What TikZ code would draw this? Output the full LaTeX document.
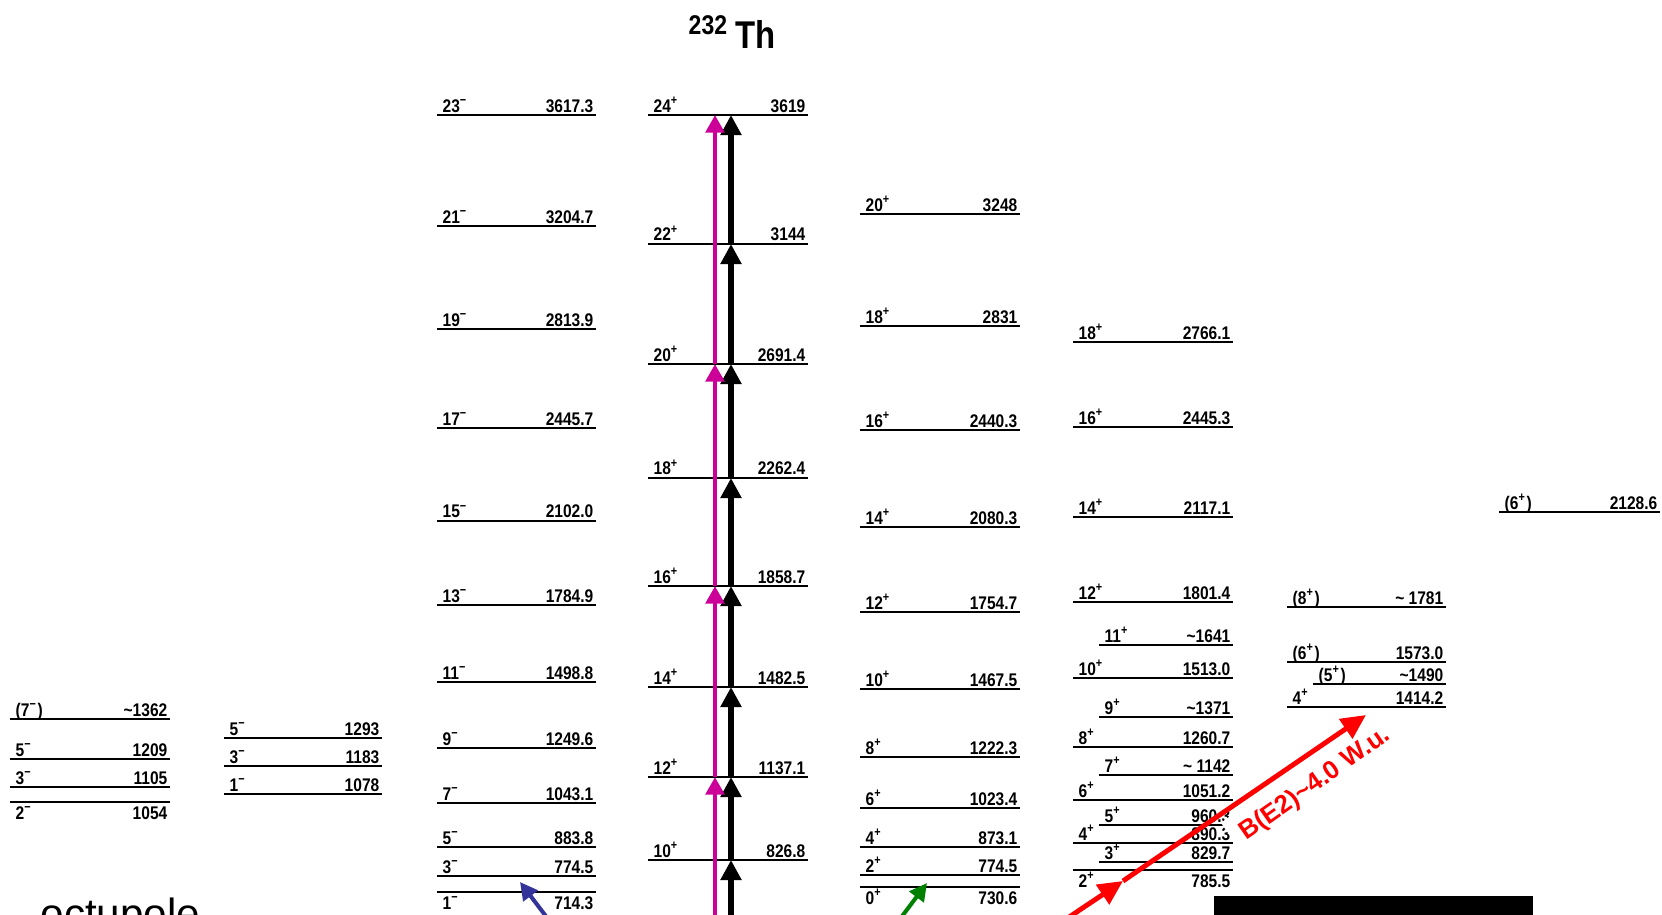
\documentclass[tikz,border=0pt]{standalone}
\usepackage{fontspec}
\setmainfont{Liberation Sans}
\newfontfamily\scanfam{Liberation Sans}[FakeStretch=0.85]
\usepackage{tikz}
\usetikzlibrary{arrows.meta}

\definecolor{gsbmag}{RGB}{204,0,153}
\definecolor{octblue}{RGB}{51,51,153}
\definecolor{betagreen}{RGB}{0,128,0}

\newcommand\lvp{\textsuperscript{+}}
\newcommand\lvm{\textsuperscript{−}}
% level line with spin left and energy right, labels above
\newcommand\lvl[6]{%
  \draw[level] (#2,#4) coordinate (#1) -- (#3,#4) coordinate (#1r);
  \node[spin] (#1s) at ([shift={(5,-3)}]#1) {#5};
  \node[ener] (#1e) at ([shift={(-2,-3)}]#1r) {#6};}
% same, labels below the line
\newcommand\lvlb[6]{%
  \draw[level] (#2,#4) coordinate (#1) -- (#3,#4) coordinate (#1r);
  \node[spin] (#1s) at ([shift={(5,17)}]#1) {#5};
  \node[ener] (#1e) at ([shift={(-2,17)}]#1r) {#6};}

\begin{document}
\begin{tikzpicture}[x=0.01cm, y=-0.01cm,
  level/.style={line width=0.8pt},
  spin/.style={anchor=base west, inner sep=0pt, font=\scanfam\bfseries\fontsize{5.2}{6}\selectfont},
  ener/.style={anchor=base east, inner sep=0pt, font=\scanfam\bfseries\fontsize{5.2}{6}\selectfont},
  blkarr/.style={line width=1.5pt, -{Triangle[length=5.7pt,width=5.7pt]}},
  magarr/.style={gsbmag, line width=1.4pt, -{Triangle[length=5pt,width=5.2pt]}},
  redarr/.style={red, line width=1.4pt, -{Triangle[length=7pt,width=6.5pt]}},
  thinarr/.style={line width=1.15pt, -{Triangle[length=5pt,width=5pt]}},
  e2lab/.style={text=red, fill=white, inner sep=3pt, font=\bfseries\fontsize{7.3}{8}\selectfont}]
  \useasboundingbox (0,0) rectangle (1662,915);
  \clip (0,0) rectangle (1662,915);

  \node[anchor=base west, inner sep=0pt, font=\scanfam\bfseries\fontsize{11}{13}\selectfont] (ttl) at (688,48) {\textsuperscript{232}\kern2pt Th};

  % K=2 octupole
  \lvl{a7}{10}{170}{719}{(7\lvm)}{\textasciitilde1362}
  \lvl{a5}{10}{170}{759}{5\lvm}{1209}
  \lvl{a3}{10}{170}{787}{3\lvm}{1105}
  \lvlb{a2}{10}{170}{802}{2\lvm}{1054}
  % K=1 octupole
  \lvl{b5}{224}{382}{738}{5\lvm}{1293}
  \lvl{b3}{224}{382}{766}{3\lvm}{1183}
  \lvl{b1}{224}{382}{794}{1\lvm}{1078}
  % K=0 octupole
  \lvl{n23}{437}{596}{115}{23\lvm}{3617.3}
  \lvl{n21}{437}{596}{226}{21\lvm}{3204.7}
  \lvl{n19}{437}{596}{329}{19\lvm}{2813.9}
  \lvl{n17}{437}{596}{428}{17\lvm}{2445.7}
  \lvl{n15}{437}{596}{521}{15\lvm}{2102.0}
  \lvl{n13}{437}{596}{605}{13\lvm}{1784.9}
  \lvl{n11}{437}{596}{682}{11\lvm}{1498.8}
  \lvl{n9}{437}{596}{748}{9\lvm}{1249.6}
  \lvl{n7}{437}{596}{803}{7\lvm}{1043.1}
  \lvl{n5}{437}{596}{847}{5\lvm}{883.8}
  \lvl{n3}{437}{596}{876}{3\lvm}{774.5}
  \lvlb{n1}{437}{596}{892}{1\lvm}{714.3}
  % ground band
  \lvl{g24}{648}{808}{115}{24\lvp}{3619}
  \lvl{g22}{648}{808}{244}{22\lvp}{3144}
  \lvl{g20}{648}{808}{364}{20\lvp}{2691.4}
  \lvl{g18}{648}{808}{478}{18\lvp}{2262.4}
  \lvl{g16}{648}{808}{586}{16\lvp}{1858.7}
  \lvl{g14}{648}{808}{687}{14\lvp}{1482.5}
  \lvl{g12}{648}{808}{777}{12\lvp}{1137.1}
  \lvl{g10}{648}{808}{860}{10\lvp}{826.8}
  \coordinate (g8) at (648,932);
  % beta band
  \lvl{p20}{860}{1020}{214}{20\lvp}{3248}
  \lvl{p18}{860}{1020}{326}{18\lvp}{2831}
  \lvl{p16}{860}{1020}{430}{16\lvp}{2440.3}
  \lvl{p14}{860}{1020}{527}{14\lvp}{2080.3}
  \lvl{p12}{860}{1020}{612}{12\lvp}{1754.7}
  \lvl{p10}{860}{1020}{689}{10\lvp}{1467.5}
  \lvl{p8}{860}{1020}{757}{8\lvp}{1222.3}
  \lvl{p6}{860}{1020}{808}{6\lvp}{1023.4}
  \lvl{p4}{860}{1020}{847}{4\lvp}{873.1}
  \lvl{p2}{860}{1020}{875}{2\lvp}{774.5}
  \lvlb{p0}{860}{1020}{887}{0\lvp}{730.6}
  % gamma band
  \lvl{q18}{1073}{1233}{342}{18\lvp}{2766.1}
  \lvl{q16}{1073}{1233}{427}{16\lvp}{2445.3}
  \lvl{q14}{1073}{1233}{517}{14\lvp}{2117.1}
  \lvl{q12}{1073}{1233}{602}{12\lvp}{1801.4}
  \lvl{q11}{1099}{1233}{645}{11\lvp}{\textasciitilde1641}
  \lvl{q10}{1073}{1233}{678}{10\lvp}{1513.0}
  \lvl{q9}{1099}{1233}{717}{9\lvp}{\textasciitilde1371}
  \lvl{q8}{1073}{1233}{747}{8\lvp}{1260.7}
  \lvl{q7}{1099}{1233}{775}{7\lvp}{\textasciitilde\ 1142}
  \lvl{q6}{1073}{1233}{800}{6\lvp}{1051.2}
  \lvl{q5}{1099}{1233}{825}{5\lvp}{960.3}
  \lvl{q4}{1073}{1233}{843}{4\lvp}{890.3}
  \lvl{q3}{1099}{1233}{862}{3\lvp}{829.7}
  \lvlb{q2}{1073}{1233}{870}{2\lvp}{785.5}
  % K=4 band
  \lvl{r8}{1287}{1446}{607}{(8\lvp)}{\textasciitilde\ 1781}
  \lvl{r6}{1287}{1446}{662}{(6\lvp)}{1573.0}
  \lvl{r5}{1313}{1446}{684}{(5\lvp)}{\textasciitilde1490}
  \lvl{r4}{1287}{1446}{707}{4\lvp}{1414.2}
  \lvl{s6}{1499}{1660}{512}{(6\lvp)}{2128.6}

  % E2 cascades in the ground band
  \coordinate (bk) at (731,0);
  \coordinate (mg) at (715,0);
  \foreach \a/\b in {8/10,10/12,12/14,14/16,16/18,18/20,20/22,22/24}
    \draw[blkarr] (bk |- g\a) -- (bk |- g\b);
  \foreach \a/\b in {8/12,12/16,16/20,20/24}
    \draw[magarr] (mg |- g\a) -- (mg |- g\b);

  \node[e2lab, rotate=35, anchor=base west] (bewu) at (1237,847) {B(E2)\textasciitilde4.0 W.u.};

  % excitations from the ground state
  \coordinate (oct0) at (595,981);
  \coordinate (octtip) at (520,882);
  \coordinate (beta0) at (855,979);
  \coordinate (betatip) at (927,883);
  \coordinate (gam0) at (999,964);
  \coordinate (gamtip) at (1123,881);
  \coordinate (k4tip) at (1366,715);
  \draw[thinarr, octblue] (oct0) -- (octtip);
  \draw[thinarr, betagreen] (beta0) -- (betatip);
  \draw[redarr] (gam0) -- (gamtip);
  \draw[redarr] (gamtip) -- (k4tip);

  \fill (1214,896) rectangle (1533,930);
  \node[anchor=base west, inner sep=0pt, font=\fontsize{12}{14}\selectfont] (octlab) at (40,928) {octupole};
\end{tikzpicture}
\end{document}
